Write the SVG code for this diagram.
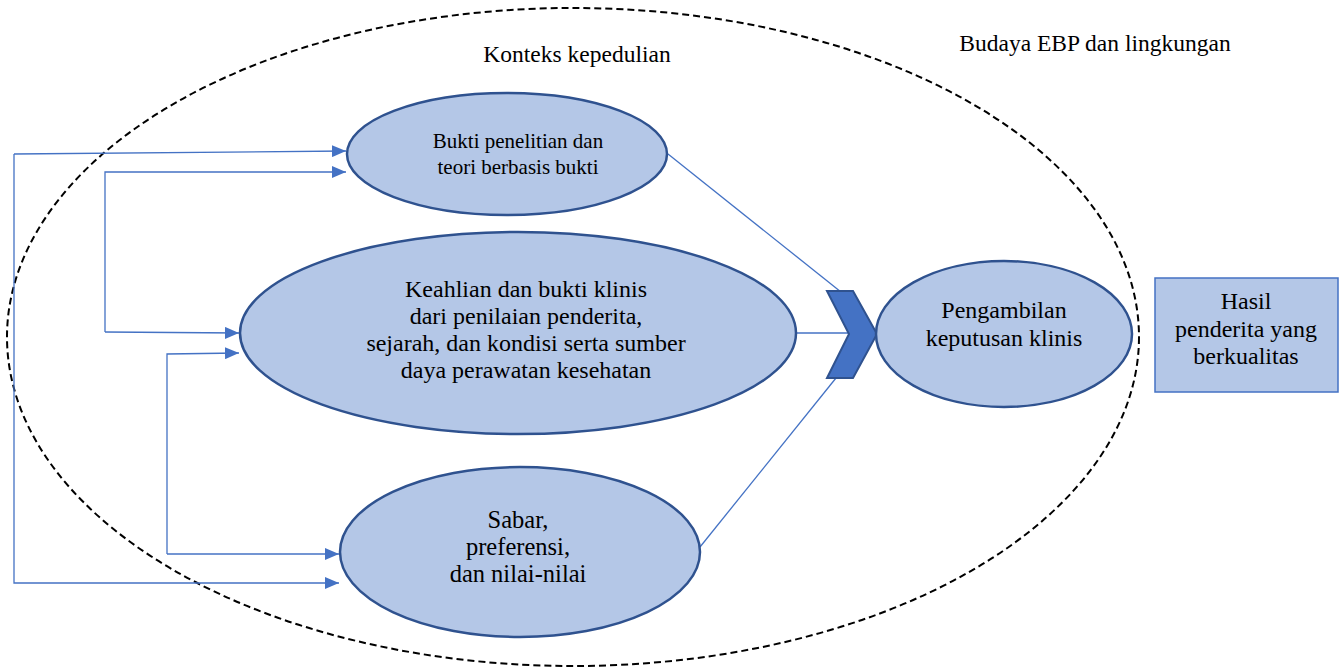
<svg xmlns="http://www.w3.org/2000/svg" width="1342" height="668" viewBox="0 0 1342 668">
<style>
.node{fill:#B4C7E7;stroke:#2F528F;stroke-width:2.5}
.t{font-family:'Liberation Serif','Times New Roman','DejaVu Serif',serif;fill:#000;text-anchor:middle}
.c{fill:none;stroke:#4472C4;stroke-width:1.3}
</style>
<defs>
<marker id="ah" markerWidth="14" markerHeight="12" refX="14" refY="6" orient="auto" markerUnits="userSpaceOnUse">
<path d="M0,0 L14,6 L0,12 Z" fill="#4472C4"/>
</marker>
</defs>
<rect width="1342" height="668" fill="#fff"/>
<g id="context">
<ellipse cx="573" cy="337" rx="566" ry="329" fill="none" stroke="#000" stroke-width="2" stroke-dasharray="7,4"/>
<text class="t" x="577" y="62" font-size="23.5">Konteks kepedulian</text>
<text class="t" x="1095" y="51" font-size="23.5">Budaya EBP dan lingkungan</text>
</g>
<g id="connectors">
<polyline class="c" points="14,154 14,583 339,583" marker-end="url(#ah)"/>
<polyline class="c" points="14,154 346,151" marker-end="url(#ah)"/>
<polyline class="c" points="105,332 105,172 346,172" marker-end="url(#ah)"/>
<polyline class="c" points="105,332 239,333" marker-end="url(#ah)"/>
<polyline class="c" points="167,554 167,354 239,353" marker-end="url(#ah)"/>
<polyline class="c" points="167,554 339,554" marker-end="url(#ah)"/>
<line class="c" x1="668" y1="154" x2="841" y2="292"/>
<line class="c" x1="796" y1="333" x2="849" y2="333"/>
<line class="c" x1="700" y1="547" x2="836" y2="378"/>
</g>
<g id="n1">
<ellipse class="node" cx="507" cy="154" rx="160" ry="61"/>
<text class="t" x="518" y="148" font-size="21">Bukti penelitian dan</text>
<text class="t" x="518" y="174" font-size="21">teori berbasis bukti</text>
</g>
<g id="n2">
<ellipse class="node" cx="518" cy="333" rx="278" ry="101"/>
<text class="t" x="526" y="297" font-size="24">Keahlian dan bukti klinis</text>
<text class="t" x="526" y="324" font-size="24">dari penilaian penderita,</text>
<text class="t" x="526" y="351" font-size="24">sejarah, dan kondisi serta sumber</text>
<text class="t" x="526" y="378" font-size="24">daya perawatan kesehatan</text>
</g>
<g id="n3">
<ellipse class="node" cx="520" cy="552" rx="180" ry="85"/>
<text class="t" x="518" y="528" font-size="24.5">Sabar,</text>
<text class="t" x="518" y="555" font-size="24.5">preferensi,</text>
<text class="t" x="518" y="582" font-size="24.5">dan nilai-nilai</text>
</g>
<g id="chevron">
<polygon points="827,291 853,291 877,334 853,378 827,378 849,334" fill="#4472C4" stroke="#2F528F" stroke-width="2"/>
</g>
<g id="n4">
<ellipse class="node" cx="1004" cy="334" rx="128" ry="73"/>
<text class="t" x="1004" y="318" font-size="24">Pengambilan</text>
<text class="t" x="1004" y="346" font-size="24">keputusan klinis</text>
</g>
<g id="n5">
<rect x="1155" y="278" width="183" height="114" fill="#B4C7E7" stroke="#4472C4" stroke-width="1.5"/>
<text class="t" x="1246" y="309" font-size="24">Hasil</text>
<text class="t" x="1246" y="337" font-size="24">penderita yang</text>
<text class="t" x="1246" y="364" font-size="24">berkualitas</text>
</g>
</svg>
